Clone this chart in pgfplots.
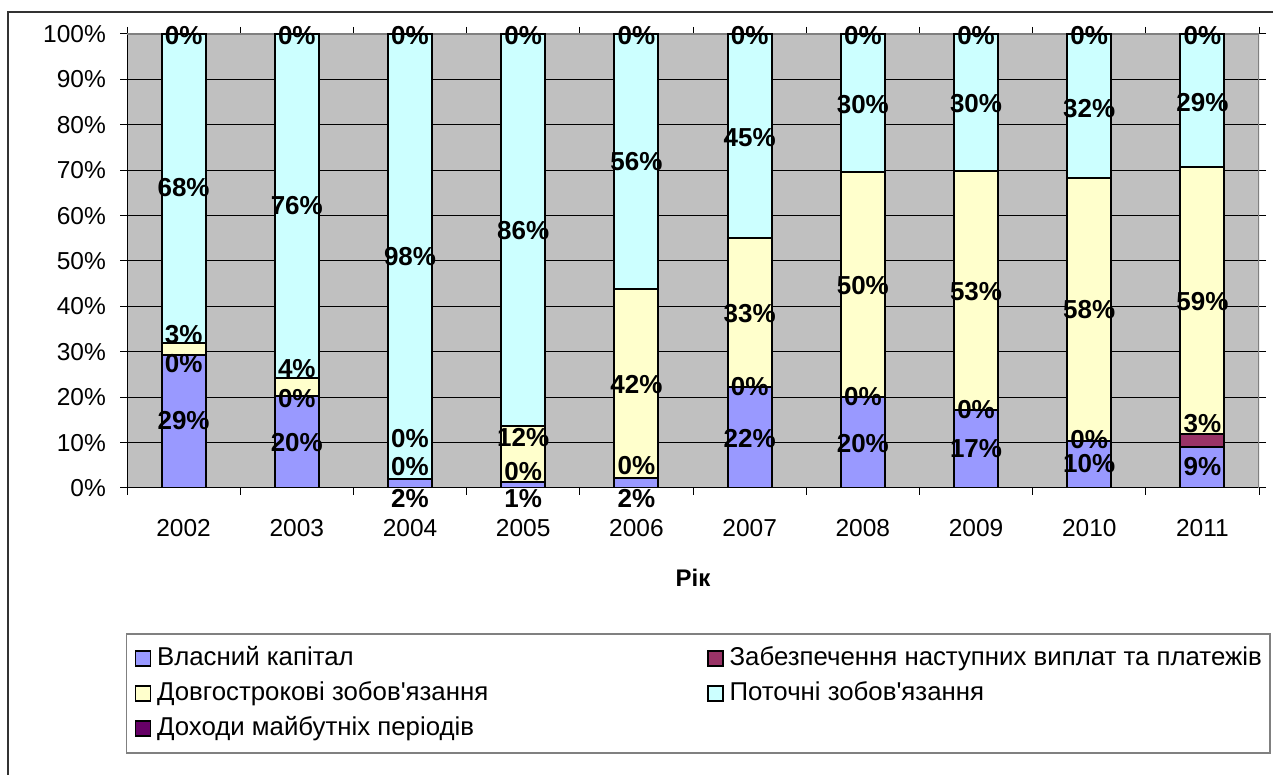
\documentclass[border=0pt]{standalone}
\usepackage{pgfplots}
\pgfplotsset{compat=1.18}
\usepackage{fontspec}
\setmainfont{Liberation Sans}[Ligatures=TeXOff]
\definecolor{cBlue}{HTML}{9999FF}
\definecolor{cMaroon}{HTML}{993366}
\definecolor{cYellow}{HTML}{FFFFCC}
\definecolor{cCyan}{HTML}{CCFFFF}
\definecolor{cPurple}{HTML}{660066}
\definecolor{cBg}{HTML}{C0C0C0}
\definecolor{cBorder}{HTML}{808080}
\pgfplotsset{
  legsq/.style={legend image code/.code={\draw[##1,draw=black,line width=1.5pt] (0pt,-7.5pt) rectangle (15pt,7.5pt);}},
}
\begin{document}
\begin{tikzpicture}[x=1pt,y=1pt]
\useasboundingbox (0,0) rectangle (1273,775);
\draw[black!80, line width=1.5pt] (8,-20) -- (8,763) -- (1300,763);
\begin{axis}[
  at={(127pt,287pt)}, anchor=south west,
  scale only axis, width=1132pt, height=454pt,
  ybar stacked, bar width=44pt,
  xmin=-0.5, xmax=9.5, ymin=0, ymax=100,
  axis line style={draw=none},
  axis background/.style={fill=cBg},
  tick align=outside,
  tick style={black, line width=1pt},
  major tick length=7pt,
  xtick={-0.5,0.5,...,9.5}, xticklabels={,,,,,,,,,,},
  extra x ticks={0,1,2,3,4,5,6,7,8,9},
  extra x tick labels={2002,2003,2004,2005,2006,2007,2008,2009,2010,2011},
  extra x tick style={major tick length=0pt, grid=none,
     xticklabel style={inner sep=0pt, anchor=north, yshift=-31pt}},
  ytick={0,10,...,100},
  yticklabels={0\%,10\%,20\%,30\%,40\%,50\%,60\%,70\%,80\%,90\%,100\%},
  yticklabel style={inner sep=0pt, anchor=east, xshift=-14pt},
  ticklabel style={font=\fontsize{24.5}{24.5}\selectfont},
  ymajorgrids, grid style={black, line width=1pt},
  xlabel={Рік},
  xlabel style={at={(axis description cs:0.5,-0.198)}, anchor=center, font=\bfseries\fontsize{24}{24}\selectfont},
  legend columns=2,
  legend cell align=left,
  legend style={at={(axis description cs:-0.001,-0.3194)}, anchor=north west,
     draw=cBorder, line width=1.5pt, inner xsep=8pt, inner ysep=12.5pt,
     font=\fontsize{25.8}{25.8}\selectfont,
     nodes={inner sep=0pt, text height=19pt, text depth=5pt},
     row sep=11pt, column sep=0pt,
     /tikz/every odd column/.append style={column sep=6pt}},
]
\addplot[fill=cBlue, draw=black, line width=2pt, legsq] coordinates
  {(0,29.4) (1,20.3) (2,1.9) (3,1.3) (4,2.1) (5,22.3) (6,20.0) (7,17.2) (8,10.4) (9,9.1)};
\addlegendentry{\makebox[550pt][l]{Власний капітал}}
\addplot[fill=cMaroon, draw=black, line width=2pt, legsq] coordinates
  {(0,0) (1,0) (2,0) (3,0) (4,0) (5,0) (6,0) (7,0) (8,0) (9,2.9)};
\addlegendentry{Забезпечення наступних виплат та платежів}
\addplot[fill=cYellow, draw=black, line width=2pt, legsq] coordinates
  {(0,2.6) (1,3.9) (2,0) (3,12.4) (4,41.7) (5,32.7) (6,49.6) (7,52.7) (8,57.8) (9,58.6)};
\addlegendentry{\makebox[550pt][l]{Довгострокові зобов'язання}}
\addplot[fill=cCyan, draw=black, line width=2pt, legsq] coordinates
  {(0,68.0) (1,75.8) (2,98.1) (3,86.3) (4,56.2) (5,45.0) (6,30.4) (7,30.1) (8,31.8) (9,29.4)};
\addlegendentry{Поточні зобов'язання}
\addplot[fill=cPurple, draw=black, line width=2pt, legsq] coordinates
  {(0,0) (1,0) (2,0) (3,0) (4,0) (5,0) (6,0) (7,0) (8,0) (9,0)};
\addlegendentry{\makebox[550pt][l]{Доходи майбутніх періодів}}
\draw[cBorder, line width=1.5pt] (rel axis cs:0,1) -- (rel axis cs:1,1) -- (rel axis cs:1,0);
\draw[black, line width=1.3pt] (rel axis cs:0,1) -- (rel axis cs:0,0) -- (rel axis cs:1,0);
\end{axis}
\begin{axis}[
  at={(127pt,287pt)}, anchor=south west,
  scale only axis, width=1132pt, height=454pt,
  xmin=-0.5, xmax=9.5, ymin=0, ymax=100,
  hide axis, clip=false,
]
\addplot[draw=none, mark=none, nodes near coords, point meta=explicit,
  nodes near coords={\pgfmathprintnumber[assume math mode=true]{\pgfplotspointmeta}\%},
  nodes near coords align={center},
  nodes near coords style={anchor=center, inner sep=0pt, font=\bfseries\fontsize{26}{26}\selectfont}]
  table[x=x, y=y, meta=m] {
x y m
0 99.6 0
1 99.6 0
2 99.6 0
3 99.6 0
4 99.6 0
5 99.6 0
6 99.6 0
7 99.6 0
8 99.6 0
9 99.6 0
0 66.2 68
0 33.7 3
0 27.3 0
0 14.8 29
1 62.2 76
1 26.4 4
1 19.6 0
1 10.1 20
2 50.9 98
2 10.8 0
2 4.8 0
2 -2.3 2
3 56.8 86
3 11.1 12
3 3.7 0
3 -2.4 1
4 71.8 56
4 22.7 42
4 4.9 0
4 -2.3 2
5 77.2 45
5 38.5 33
5 22.3 0
5 10.9 22
6 84.4 30
6 44.7 50
6 20.1 0
6 9.8 20
7 84.6 30
7 43.2 53
7 17.3 0
7 8.7 17
8 83.6 32
8 39.2 58
8 10.7 0
8 5.4 10
9 84.9 29
9 41.0 59
9 14.2 3
9 4.7 9
};
\end{axis}
\end{tikzpicture}
\end{document}
